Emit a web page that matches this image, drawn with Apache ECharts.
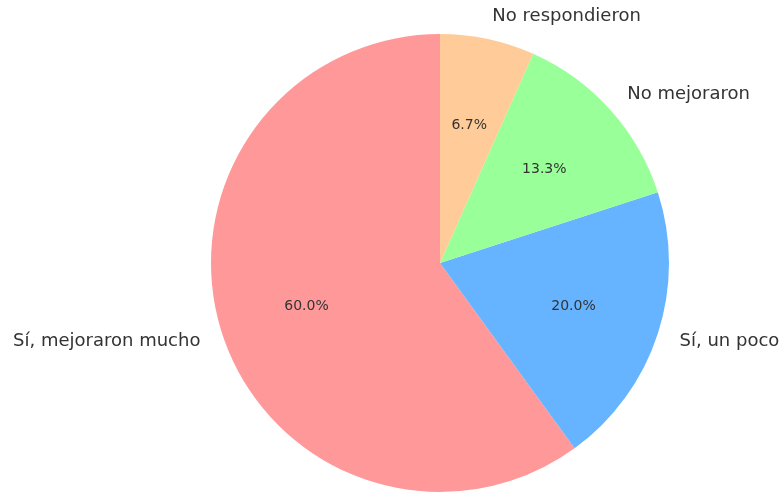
<!DOCTYPE html>
<html>
<head>
<meta charset="utf-8">
<script src="https://cdn.jsdelivr.net/npm/echarts@6/dist/echarts.min.js"></script>
<style>
html,body{margin:0;padding:0;background:#fff;}
#chart{width:783px;height:494px;}
</style>
</head>
<body>
<div id="chart"></div>
<script>
const categories = ['Sí, mejoraron mucho', 'Sí, un poco', 'No mejoraron', 'No respondieron'];
const values = [9, 3, 2, 1];
const colors = ['#ff9999', '#66b3ff', '#99ff99', '#ffcc99'];

const R = 229;
const CENTER = [440, 263];
const total = values.reduce((a, b) => a + b, 0);

const data = categories.map((c, i) => ({ name: c, value: values[i], itemStyle: { color: colors[i] } }));
const font = 'DejaVu Sans';

const chart = echarts.init(document.getElementById('chart'));
chart.setOption({
  backgroundColor: '#ffffff',
  animation: false,
  series: [
    {
      type: 'pie',
      left: 0, top: 0, width: 1400, height: 900,
      center: CENTER,
      radius: [0, R],
      startAngle: 90,
      clockwise: false,
      avoidLabelOverlap: false,
      silent: true,
      emphasis: { disabled: true },
      data: data,
      label: {
        show: true,
        position: 'outside',
        formatter: '{b}',
        fontFamily: font,
        fontSize: 18,
        color: '#333333',
        distanceToLabelLine: 0,
        bleedMargin: 0
      },
      labelLine: { show: false, length: R * 0.1, length2: 0 }
    },
    {
      type: 'pie',
      left: 0, top: 0, width: 1400, height: 900,
      center: CENTER,
      radius: [0, R * 1.2],
      startAngle: 90,
      clockwise: false,
      avoidLabelOverlap: false,
      silent: true,
      emphasis: { disabled: true },
      data: data.map(d => ({ name: d.name, value: d.value, itemStyle: { color: 'rgba(0,0,0,0)' } })),
      label: {
        show: true,
        position: 'inside',
        formatter: p => (p.value / total * 100).toFixed(1) + '%',
        fontFamily: font,
        fontSize: 14,
        color: '#333333'
      },
      labelLine: { show: false }
    }
  ]
});
</script>
</body>
</html>
